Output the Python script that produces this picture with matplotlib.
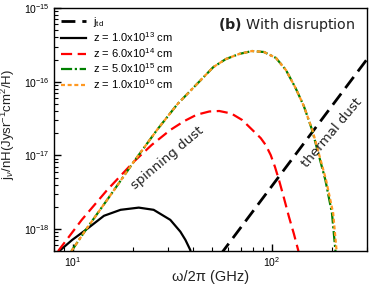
import matplotlib
matplotlib.use("Agg")
import matplotlib.pyplot as plt

# ---- data ----
f_td = [55, 100, 200, 300]
j_td = [4.47e-19, 3.85e-18, 4.68e-17, 2.01e-16]

f_z13 = [8.51, 9.89, 11.57, 14.29, 17.32, 21.38, 25.4, 30.8, 34.6, 36.7, 38.8, 39.4]
j_z13 = [5.0e-19, 7.1e-19, 9.7e-19, 1.51e-18, 1.82e-18, 1.95e-18, 1.82e-18,
         1.33e-18, 9.2e-19, 7.1e-19, 5.2e-19, 4.2e-19]

f_z14 = [8.4, 11.05, 14.84, 20.2, 24.8, 30.8, 36.3, 41.8, 48.4, 54.3, 62.4, 70.8,
         79.7, 87.8, 93.0, 98.5, 103.5, 108.4, 114.8, 121.6, 128.8, 135.3, 138.4]
j_z14 = [5.0e-19, 1.33e-18, 3.39e-18, 8.2e-18, 1.38e-17, 2.21e-17, 2.93e-17,
         3.56e-17, 3.94e-17, 4.0e-17, 3.7e-17, 3.02e-17, 2.21e-17, 1.71e-17,
         1.38e-17, 1.01e-17, 6.96e-18, 4.63e-18, 2.64e-18, 1.47e-18, 8.6e-19,
         5.2e-19, 4.0e-19]

f_z15 = [9.8, 11.57, 15.3, 20.2, 26.4, 33.5, 43.2, 50.7, 58.6, 68.4, 79.4, 91.2,
         104.7, 117.5, 131.4, 144.5, 159.1, 171.8, 185.5, 200.2, 208.2, 210.0]
j_z15 = [5.0e-19, 9.7e-19, 2.8e-18, 8.2e-18, 2.21e-17, 4.98e-17, 1.01e-16,
         1.58e-16, 2.03e-16, 2.38e-16, 2.61e-16, 2.53e-16, 2.10e-16, 1.44e-16,
         8.2e-17, 4.68e-17, 2.21e-17, 1.01e-17, 4.63e-18, 1.64e-18, 5.2e-19, 4.0e-19]

f_z16 = [9.8, 11.57, 15.3, 20.2, 26.4, 33.5, 43.2, 50.7, 58.6, 68.4, 79.4, 91.2,
         104.7, 117.5, 131.4, 144.5, 159.6, 172.8, 187.0, 203.0, 211.0, 213.0]
j_z16 = [5.0e-19, 9.7e-19, 2.8e-18, 8.2e-18, 2.21e-17, 4.98e-17, 1.01e-16,
         1.58e-16, 2.03e-16, 2.38e-16, 2.61e-16, 2.53e-16, 2.10e-16, 1.44e-16,
         8.2e-17, 4.68e-17, 2.21e-17, 1.01e-17, 4.63e-18, 1.64e-18, 5.2e-19, 4.0e-19]

labels = [r"j$_{\rm td}$", r"z = 1.0x10$^{13}$ cm", r"z = 6.0x10$^{14}$ cm",
          r"z = 5.0x10$^{15}$ cm", r"z = 1.0x10$^{16}$ cm"]

plt.rcParams['font.family'] = ['Liberation Sans', 'DejaVu Sans']
plt.rcParams['mathtext.fontset'] = 'custom'
plt.rcParams['mathtext.rm'] = 'Liberation Sans'
plt.rcParams['mathtext.it'] = 'Liberation Sans:italic'
plt.rcParams['mathtext.bf'] = 'DejaVu Sans:bold'

fig = plt.figure(figsize=(3.74, 2.88), dpi=100)
ax = fig.add_axes([0.144, 0.128, 0.837, 0.844])

ax.plot(f_td, j_td, color='black', lw=2.0, dashes=(5, 2.5), label=labels[0])
ax.plot(f_z13, j_z13, color='black', lw=1.6, ls='-', label=labels[1])
ax.plot(f_z14, j_z14, color='red', lw=1.6, dashes=(5, 2.5), label=labels[2])
ax.plot(f_z15, j_z15, color='green', lw=1.6, dashes=(5, 1.2, 1, 1.2), label=labels[3])
ax.plot(f_z16, j_z16, color='#ff9922', lw=1.6, dashes=(1.8, 1.2), label=labels[4])

ax.set_xscale('log')
ax.set_yscale('log')
ax.set_xlim(8, 300)
ax.set_ylim(5e-19, 1e-15)

ax.tick_params(which='both', direction='in', top=False, right=False, labelsize=7.5,
               colors='black', pad=3)
ax.tick_params(which='major', length=5, width=1)
ax.tick_params(which='minor', length=3, width=0.8)
for s in ax.spines.values():
    s.set_linewidth(1.0)

ax.set_xlabel("ω/2π (GHz)", fontsize=10.5, labelpad=1, color='#222222')
ax.set_ylabel(r"j$_\nu$/nH(Jysr$^{-1}$cm$^2$/H)", fontsize=9.5, color='#222222')
ax.yaxis.set_label_coords(-0.118, 0.52)

leg = ax.legend(loc='upper left', frameon=False, fontsize=8, handlelength=2.3,
                labelspacing=0.15, borderaxespad=0.3, handletextpad=0.6,
                borderpad=0.3)

ax.text(0.962, 0.93, r"$\bf{(b)}$ With disruption", transform=ax.transAxes,
        ha='right', va='center', fontsize=10.3, color='#222222', family='DejaVu Sans')
ax.text(0.364, 0.383, "spinning dust", transform=ax.transAxes, rotation=40,
        ha='center', va='center', fontsize=9.6, color='#222222', family='DejaVu Sans')
ax.text(0.888, 0.486, "thermal dust", transform=ax.transAxes, rotation=50,
        ha='center', va='center', fontsize=9.6, color='#222222', family='DejaVu Sans')

fig.savefig("out.png", dpi=100)
